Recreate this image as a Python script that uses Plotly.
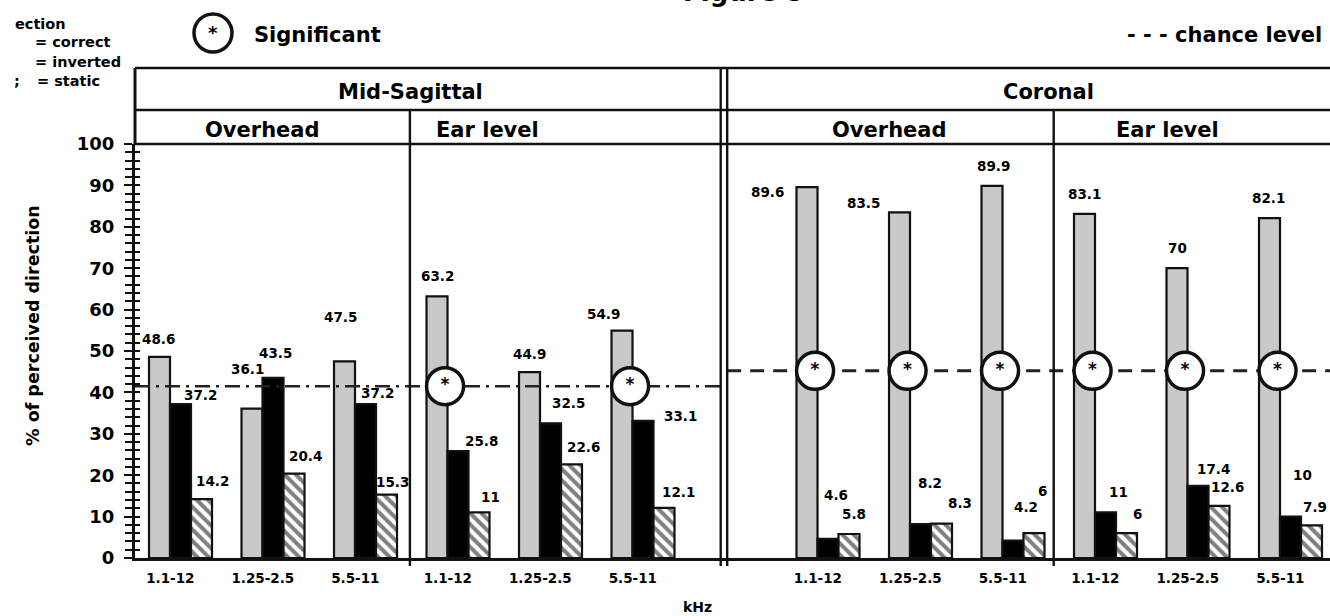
import plotly.graph_objects as go

# ---------------- data ----------------
planes = ["Mid-Sagittal", "Coronal"]
elevations = ["Overhead", "Ear level", "Overhead", "Ear level"]
freq_labels = ["1.1-12", "1.25-2.5", "5.5-11"] * 4
correct = [48.6, 36.1, 47.5, 63.2, 44.9, 54.9, 89.6, 83.5, 89.9, 83.1, 70, 82.1]
inverted = [37.2, 43.5, 37.2, 25.8, 32.5, 33.1, 4.6, 8.2, 4.2, 11, 17.4, 10]
static = [14.2, 20.4, 15.3, 11, 22.6, 12.1, 5.8, 8.3, 6, 6, 12.6, 7.9]
significant = [0, 0, 0, 1, 0, 1, 1, 1, 1, 1, 1, 1]
chance_level = [41.5, 45.2]  # Mid-Sagittal, Coronal

# ---------------- layout helpers ----------------
W, H = 1330, 616
L, R_, T, B = 135, 0, 144, 58
PW, PH = W - L - R_, H - T - B
X_RANGE = [-0.492, 12.427]


def pxx(p):
    return (p - L) / PW


def pxy(p):
    return (H - B - p) / PH


# group slot positions: 4 panels of 3, with an extra empty slot between planes
positions = [p * 3 + i + (1 if p >= 2 else 0) for p in range(4) for i in range(3)]
plane_of_group = [0] * 6 + [1] * 6
BW = 0.227  # bar width in slot units (for label anchoring)

# per-label pixel offsets (dx, up) relative to bar top centre
off_correct = [(-1.5, 18), (-5, 39.5), (-4.5, 44), (0, 20), (-0.5, 18), (-19, 17),
               (-40, -5), (-36.5, 9), (1, 20), (-0.5, 20), (0, 20), (-1.5, 20)]
off_inverted = [(19.5, 9), (2, 25), (11.5, 11), (23, 10), (17.5, 20), (37, 5),
                (8, 44), (9.5, 41), (13, 33.6), (12.5, 20.5), (15, 17), (11.5, 41.6)]
off_static = [(10.5, 18), (11, 17.5), (5.5, 12.7), (11, 15.5), (11.5, 17), (14, 16),
              (5, 20), (18.5, 20.6), (8, 42), (10.5, 19), (8, 19), (3, 18)]

FONT = "DejaVu Sans"
BLACK = "#111111"

fig = go.Figure()

fig.add_trace(go.Bar(x=positions, y=correct, name="correct",
                     marker=dict(color="#c9c9c9", line=dict(color=BLACK, width=2.2))))
fig.add_trace(go.Bar(x=positions, y=inverted, name="inverted",
                     marker=dict(color="#000000", line=dict(color=BLACK, width=2.2))))
fig.add_trace(go.Bar(x=positions, y=static, name="static",
                     marker=dict(color="white", line=dict(color=BLACK, width=2.2),
                                 pattern=dict(shape="\\", fgcolor="black", bgcolor="white",
                                              size=8, solidity=0.5))))

# chance level lines
fig.add_trace(go.Scatter(x=[X_RANGE[0], 5.84], y=[chance_level[0]] * 2, mode="lines",
                         line=dict(color="#222222", width=2.5, dash="15px,6px,3px,6px"),
                         hoverinfo="skip"))
fig.add_trace(go.Scatter(x=[5.91, X_RANGE[1]], y=[chance_level[1]] * 2, mode="lines",
                         line=dict(color="#222222", width=3, dash="14px,9px"),
                         hoverinfo="skip"))

# significance circles
sx = [positions[g] - 0.14 for g in range(12) if significant[g]]
sy = [chance_level[plane_of_group[g]] for g in range(12) if significant[g]]
fig.add_trace(go.Scatter(x=sx, y=sy, mode="markers+text", text=["*"] * len(sx),
                         textposition="middle center",
                         textfont=dict(family=FONT, size=17, color="black", weight="bold"),
                         marker=dict(symbol="circle", size=37, color="white",
                                     line=dict(color=BLACK, width=3.5)),
                         cliponaxis=False, hoverinfo="skip"))

# dummy trace for inner ticks axis
fig.add_trace(go.Scatter(x=[None], y=[None], yaxis="y2", showlegend=False, hoverinfo="skip"))

annotations = []
lab_font = dict(family=FONT, size=13.5, color="black", weight="bold")
for vals, offs, dxs in ((correct, off_correct, -BW), (inverted, off_inverted, 0.0),
                        (static, off_static, BW)):
    for g in range(12):
        dx, up = offs[g]
        annotations.append(dict(x=positions[g] + dxs, y=vals[g], xref="x", yref="y",
                                text=f"{vals[g]:g}", showarrow=False, xshift=dx, yshift=up,
                                font=lab_font, xanchor="center", yanchor="middle"))

hdr_font = dict(family=FONT, size=21, color="black", weight="bold")
# plane headers
for name, xc in zip(planes, [410, 1048]):
    annotations.append(dict(x=pxx(xc), y=pxy(92), xref="paper", yref="paper", text=name,
                            showarrow=False, font=hdr_font, xanchor="center", yanchor="middle"))
for name, xc in zip(elevations, [262, 487, 889, 1167]):
    annotations.append(dict(x=pxx(xc), y=pxy(130), xref="paper", yref="paper", text=name,
                            showarrow=False, font=hdr_font, xanchor="center", yanchor="middle"))

# figure title (cut at top, as in the scan)
annotations.append(dict(x=pxx(743), y=pxy(9), xref="paper", yref="paper", text="Figure 5",
                        showarrow=False, font=dict(family=FONT, size=26, color="black", weight="bold"),
                        xanchor="center", yanchor="bottom"))
# legend texts (left, partially cut)
leg_font = dict(family=FONT, size=14.5, color="black", weight="bold")
for txt, xl, yc in (("ection", 13, 24), ("= correct", 33, 42), ("= inverted", 33, 62),
                    (";", 12, 81), ("= static", 35, 81)):
    annotations.append(dict(x=pxx(xl), y=pxy(yc), xref="paper", yref="paper", text=txt,
                            showarrow=False, font=leg_font, xanchor="left", yanchor="middle"))
# Significant legend
annotations.append(dict(x=pxx(213), y=pxy(33), xref="paper", yref="paper", text="*",
                        showarrow=False, font=dict(family=FONT, size=18, color="black", weight="bold"),
                        xanchor="center", yanchor="middle"))
annotations.append(dict(x=pxx(252), y=pxy(35), xref="paper", yref="paper", text="Significant",
                        showarrow=False, font=hdr_font, xanchor="left", yanchor="middle"))
annotations.append(dict(x=pxx(1324), y=pxy(35), xref="paper", yref="paper",
                        text="- - - chance level",
                        showarrow=False, font=hdr_font, xanchor="right", yanchor="middle"))
# axis titles
annotations.append(dict(x=pxx(33), y=pxy(326), xref="paper", yref="paper",
                        text="% of perceived direction", textangle=-90,
                        showarrow=False, font=dict(family=FONT, size=17.5, color="black", weight="bold"),
                        xanchor="center", yanchor="middle"))
annotations.append(dict(x=pxx(697), y=pxy(607), xref="paper", yref="paper", text="kHz",
                        showarrow=False, font=dict(family=FONT, size=14, color="black", weight="bold"),
                        xanchor="center", yanchor="middle"))

shapes = []
LW = 2.6
# header box lines
for yp in (68, 110, 144):
    shapes.append(dict(type="line", xref="paper", yref="paper", x0=0, x1=1.05,
                       y0=pxy(yp), y1=pxy(yp), line=dict(color=BLACK, width=LW)))
shapes.append(dict(type="line", xref="paper", yref="paper", x0=0, x1=0,
                   y0=pxy(68), y1=pxy(144), line=dict(color=BLACK, width=3)))
# panel dividers
for xd, ytop in ((2.48, 110), (9.44, 110), (5.84, 68), (5.91, 68)):
    shapes.append(dict(type="line", xref="x", yref="paper", x0=xd, x1=xd,
                       y0=pxy(ytop), y1=pxy(566), line=dict(color=BLACK, width=2.4)))
# legend circle
shapes.append(dict(type="circle", xref="paper", yref="paper",
                   x0=pxx(194), x1=pxx(232), y0=pxy(14), y1=pxy(52),
                   line=dict(color=BLACK, width=3.5), fillcolor="white"))

tick_font = dict(family=FONT, size=18, color="black", weight="bold")
fig.update_layout(
    width=W, height=H, autosize=False,
    margin=dict(l=L, r=R_, t=T, b=B, pad=0),
    paper_bgcolor="white", plot_bgcolor="white",
    showlegend=False,
    barmode="group", bargap=0.319, bargroupgap=0,
    annotations=annotations, shapes=shapes,
    xaxis=dict(range=X_RANGE, tickmode="array", tickvals=[p - 0.11 for p in positions],
               ticktext=freq_labels, ticks="", showline=True, linecolor=BLACK, linewidth=3,
               showgrid=False, zeroline=False, tickfont=dict(family=FONT, size=13.5, color="black",
                                                             weight="bold"),
               ticklabelstandoff=6),
    yaxis=dict(range=[0, 100], tickmode="array", tickvals=list(range(0, 101, 10)),
               ticks="outside", ticklen=8, tickwidth=2, tickcolor=BLACK,
               minor=dict(dtick=2, ticks="outside", ticklen=7, tickwidth=1.6, tickcolor=BLACK),
               showline=True, linecolor=BLACK, linewidth=3, showgrid=False, zeroline=False,
               tickfont=tick_font, ticklabelstandoff=6),
    yaxis2=dict(range=[0, 100], overlaying="y", anchor="x", side="left",
                tickmode="array", tickvals=list(range(0, 101, 10)),
                ticks="inside", ticklen=5, tickwidth=2, tickcolor=BLACK,
                minor=dict(dtick=2, ticks="inside", ticklen=5, tickwidth=1.6, tickcolor=BLACK),
                showticklabels=False, showline=False, showgrid=False, zeroline=False),
)

fig.write_html("out.html")
